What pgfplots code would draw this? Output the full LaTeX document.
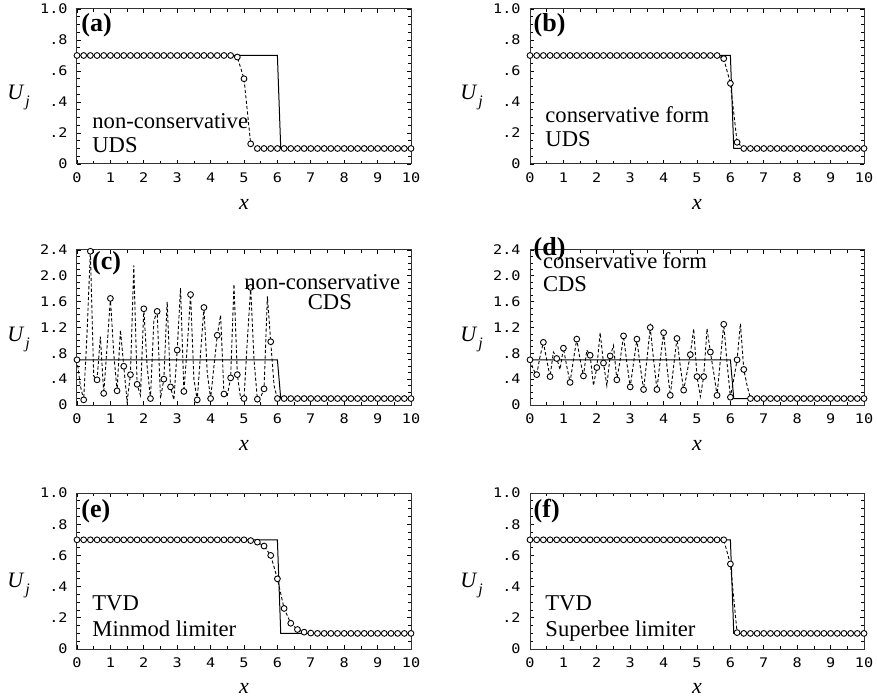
\documentclass[border=0pt]{standalone}
\usepackage{fontspec}
\setmainfont{Liberation Serif}
\newfontfamily\tickfont[FakeStretch=1.15, Numbers=SlashedZero]{DejaVu Sans Mono}
\usepackage{pgfplots}
\usepackage{pgfplotstable}
\pgfplotsset{compat=1.18}

% panel (c): non-conservative CDS, dx = 0.1, markers on every other point
\pgfplotstableread{
x y
0.0 0.70
0.1 0.30
0.2 0.08
0.3 1.10
0.4 2.38
0.5 0.45
0.6 0.39
0.7 1.06
0.8 0.18
0.9 0.90
1.0 1.65
1.1 0.80
1.2 0.22
1.3 1.16
1.4 0.60
1.5 0.05
1.6 0.47
1.7 2.16
1.8 0.32
1.9 0.15
2.0 1.49
2.1 0.60
2.2 0.10
2.3 1.30
2.4 1.45
2.5 0.10
2.6 0.40
2.7 1.60
2.8 0.28
2.9 0.08
3.0 0.85
3.1 1.81
3.2 0.21
3.3 0.90
3.4 1.71
3.5 0.40
3.6 0.08
3.7 0.80
3.8 1.51
3.9 0.50
4.0 0.10
4.1 0.60
4.2 1.08
4.3 1.39
4.4 0.17
4.5 0.15
4.6 0.42
4.7 1.87
4.8 0.47
4.9 0.10
5.0 0.10
5.1 1.00
5.2 1.82
5.3 0.70
5.4 0.09
5.5 0.12
5.6 0.25
5.7 1.68
5.8 0.98
5.9 0.30
6.0 0.10
6.1 0.10
6.2 0.10
6.3 0.10
6.4 0.10
6.5 0.10
6.6 0.10
6.7 0.10
6.8 0.10
6.9 0.10
7.0 0.10
7.1 0.10
7.2 0.10
7.3 0.10
7.4 0.10
7.5 0.10
7.6 0.10
7.7 0.10
7.8 0.10
7.9 0.10
8.0 0.10
8.1 0.10
8.2 0.10
8.3 0.10
8.4 0.10
8.5 0.10
8.6 0.10
8.7 0.10
8.8 0.10
8.9 0.10
9.0 0.10
9.1 0.10
9.2 0.10
9.3 0.10
9.4 0.10
9.5 0.10
9.6 0.10
9.7 0.10
9.8 0.10
9.9 0.10
10.0 0.10
}\ncdsdata

% panel (d): conservative CDS
\pgfplotstableread{
x y
0.0 0.70
0.1 0.55
0.2 0.47
0.3 0.75
0.4 0.97
0.5 0.70
0.6 0.44
0.7 0.82
0.8 0.72
0.9 0.55
1.0 0.88
1.1 0.60
1.2 0.35
1.3 0.70
1.4 1.02
1.5 0.70
1.6 0.45
1.7 0.85
1.8 0.77
1.9 0.30
2.0 0.58
2.1 1.12
2.2 0.65
2.3 0.30
2.4 0.76
2.5 0.92
2.6 0.39
2.7 0.70
2.8 1.07
2.9 0.65
3.0 0.28
3.1 0.65
3.2 1.02
3.3 0.60
3.4 0.24
3.5 0.70
3.6 1.20
3.7 0.70
3.8 0.24
3.9 0.70
4.0 1.12
4.1 0.60
4.2 0.15
4.3 0.60
4.4 1.03
4.5 0.60
4.6 0.23
4.7 0.50
4.8 0.78
4.9 1.18
5.0 0.44
5.1 0.13
5.2 0.44
5.3 1.18
5.4 0.82
5.5 0.50
5.6 0.15
5.7 0.70
5.8 1.25
5.9 0.65
6.0 0.12
6.1 0.40
6.2 0.70
6.3 1.26
6.4 0.55
6.5 0.30
6.6 0.10
6.7 0.10
6.8 0.10
6.9 0.10
7.0 0.10
7.1 0.10
7.2 0.10
7.3 0.10
7.4 0.10
7.5 0.10
7.6 0.10
7.7 0.10
7.8 0.10
7.9 0.10
8.0 0.10
8.1 0.10
8.2 0.10
8.3 0.10
8.4 0.10
8.5 0.10
8.6 0.10
8.7 0.10
8.8 0.10
8.9 0.10
9.0 0.10
9.1 0.10
9.2 0.10
9.3 0.10
9.4 0.10
9.5 0.10
9.6 0.10
9.7 0.10
9.8 0.10
9.9 0.10
10.0 0.10
}\ccdsdata

% panels (a), (b), (e), (f): dx = 0.2
\pgfplotstableread{
x a b e f
0.0 0.70 0.70 0.70 0.70
0.2 0.70 0.70 0.70 0.70
0.4 0.70 0.70 0.70 0.70
0.6 0.70 0.70 0.70 0.70
0.8 0.70 0.70 0.70 0.70
1.0 0.70 0.70 0.70 0.70
1.2 0.70 0.70 0.70 0.70
1.4 0.70 0.70 0.70 0.70
1.6 0.70 0.70 0.70 0.70
1.8 0.70 0.70 0.70 0.70
2.0 0.70 0.70 0.70 0.70
2.2 0.70 0.70 0.70 0.70
2.4 0.70 0.70 0.70 0.70
2.6 0.70 0.70 0.70 0.70
2.8 0.70 0.70 0.70 0.70
3.0 0.70 0.70 0.70 0.70
3.2 0.70 0.70 0.70 0.70
3.4 0.70 0.70 0.70 0.70
3.6 0.70 0.70 0.70 0.70
3.8 0.70 0.70 0.70 0.70
4.0 0.70 0.70 0.70 0.70
4.2 0.70 0.70 0.70 0.70
4.4 0.70 0.70 0.70 0.70
4.6 0.70 0.70 0.70 0.70
4.8 0.69 0.70 0.70 0.70
5.0 0.55 0.70 0.70 0.70
5.2 0.13 0.70 0.695 0.70
5.4 0.10 0.70 0.685 0.70
5.6 0.10 0.70 0.66 0.70
5.8 0.10 0.68 0.60 0.70
6.0 0.10 0.52 0.45 0.545
6.2 0.10 0.14 0.26 0.105
6.4 0.10 0.10 0.165 0.10
6.6 0.10 0.10 0.125 0.10
6.8 0.10 0.10 0.108 0.10
7.0 0.10 0.10 0.102 0.10
7.2 0.10 0.10 0.10 0.10
7.4 0.10 0.10 0.10 0.10
7.6 0.10 0.10 0.10 0.10
7.8 0.10 0.10 0.10 0.10
8.0 0.10 0.10 0.10 0.10
8.2 0.10 0.10 0.10 0.10
8.4 0.10 0.10 0.10 0.10
8.6 0.10 0.10 0.10 0.10
8.8 0.10 0.10 0.10 0.10
9.0 0.10 0.10 0.10 0.10
9.2 0.10 0.10 0.10 0.10
9.4 0.10 0.10 0.10 0.10
9.6 0.10 0.10 0.10 0.10
9.8 0.10 0.10 0.10 0.10
10.0 0.10 0.10 0.10 0.10
}\smoothdata

\newcommand\annfont{\fontsize{11.3}{12}\selectfont}
\newcommand\tagfont{\bfseries\fontsize{13}{13}\selectfont}
\newcommand\labfont{\fontsize{11}{12}\selectfont}
\newcommand\Uj{\labfont\textit{U}\kern0.4pt\raisebox{-0.32em}{\fontsize{8}{8}\selectfont\textit{j}}}

\pgfplotsset{
  panel/.style={scale only axis, width=167pt, height=77.5pt, anchor=south west,
    clip mode=individual,
    xmin=0, xmax=10, xtick={0,1,2,3,4,5,6,7,8,9,10},
    xticklabels={0,1,2,3,4,5,6,7,8,9,10},
    minor x tick num=1, minor y tick num=3, tick align=inside,
    major tick length=2pt, minor tick length=1.5pt,
    every tick/.style={black, line width=0.4pt},
    axis line style={line width=0.5pt, black!80},
    tick label style={font=\tickfont\fontsize{6.6}{7}\selectfont},
    xticklabel style={yshift=-1pt},
    yticklabel style={xshift=-1.2pt}},
  unit/.style={panel, ymin=0, ymax=1, ytick={0,0.2,0.4,0.6,0.8,1},
    yticklabels={0,.2,.4,.6,.8,1.0}},
  wide/.style={panel, ymin=0, ymax=2.4, ytick={0,0.4,0.8,1.2,1.6,2.0,2.4},
    yticklabels={0,.4,.8,1.2,1.6,2.0,2.4}},
  exact/.style={black, line width=0.5pt, no marks},
  num/.style={black, line width=0.45pt, dash pattern=on 1.6pt off 1.1pt,
    mark=*, mark size=1.45pt, mark options={solid, fill=white, line width=0.45pt}}
}

\begin{document}
\begin{tikzpicture}
\useasboundingbox (0,0) rectangle (438.5pt,348.5pt);

% (a)
\begin{axis}[unit, at={(38.5pt,266.5pt)}]
\addplot[exact] coordinates {(0,0.7) (6,0.7) (6.1,0.1) (10,0.1)};
\addplot[num] table[x=x, y=a] {\smoothdata};
\node[anchor=north west, inner sep=0] at (axis description cs:0.012,0.974) {\tagfont (a)};
\node[anchor=base west, inner sep=0] at (axis description cs:0.045,0.232) {\annfont non-conservative};
\node[anchor=base west, inner sep=0] at (axis description cs:0.045,0.077) {\annfont UDS};
\node at (axis description cs:-0.175,0.43) {\Uj};
\node at (axis description cs:0.5,-0.26) {\labfont\textit{x}};
\end{axis}

% (b)
\begin{axis}[unit, at={(265pt,266.5pt)}]
\addplot[exact] coordinates {(0,0.7) (6,0.7) (6.1,0.1) (10,0.1)};
\addplot[num] table[x=x, y=b] {\smoothdata};
\node[anchor=north west, inner sep=0] at (axis description cs:0.01,0.974) {\tagfont (b)};
\node[anchor=base west, inner sep=0] at (axis description cs:0.045,0.265) {\annfont conservative form};
\node[anchor=base west, inner sep=0] at (axis description cs:0.045,0.11) {\annfont UDS};
\node at (axis description cs:-0.175,0.43) {\Uj};
\node at (axis description cs:0.5,-0.26) {\labfont\textit{x}};
\end{axis}

% (c)
\begin{axis}[wide, at={(38.5pt,146pt)}]
\addplot[exact] coordinates {(0,0.7) (6,0.7) (6.1,0.1) (10,0.1)};
\addplot[num, mark repeat=2, mark phase=1] table[x=x, y=y] {\ncdsdata};
\node[anchor=north west, inner sep=0] at (axis description cs:0.044,0.995) {\tagfont (c)};
\node[anchor=base west, inner sep=0] at (axis description cs:0.50,0.748) {\annfont non-conservative};
\node[anchor=base west, inner sep=0] at (axis description cs:0.69,0.613) {\annfont CDS};
\node at (axis description cs:-0.175,0.42) {\Uj};
\node at (axis description cs:0.5,-0.26) {\labfont\textit{x}};
\end{axis}

% (d)
\begin{axis}[wide, at={(265pt,146pt)}]
\addplot[exact] coordinates {(0,0.7) (6,0.7) (6.1,0.1) (10,0.1)};
\addplot[num, mark repeat=2, mark phase=1] table[x=x, y=y] {\ccdsdata};
\node[anchor=north west, inner sep=0] at (axis description cs:0.01,1.085) {\tagfont (d)};
\node[anchor=base west, inner sep=0] at (axis description cs:0.038,0.88) {\annfont conservative form};
\node[anchor=base west, inner sep=0] at (axis description cs:0.038,0.73) {\annfont CDS};
\node at (axis description cs:-0.175,0.42) {\Uj};
\node at (axis description cs:0.5,-0.26) {\labfont\textit{x}};
\end{axis}

% (e)
\begin{axis}[unit, at={(38.5pt,24pt)}, height=78pt]
\addplot[exact] coordinates {(0,0.7) (6,0.7) (6.1,0.1) (10,0.1)};
\addplot[num] table[x=x, y=e] {\smoothdata};
\node[anchor=north west, inner sep=0] at (axis description cs:0.012,0.96) {\tagfont (e)};
\node[anchor=base west, inner sep=0] at (axis description cs:0.045,0.25) {\annfont TVD};
\node[anchor=base west, inner sep=0] at (axis description cs:0.045,0.083) {\annfont Minmod limiter};
\node at (axis description cs:-0.175,0.41) {\Uj};
\node at (axis description cs:0.5,-0.255) {\labfont\textit{x}};
\end{axis}

% (f)
\begin{axis}[unit, at={(265pt,24pt)}, height=78pt]
\addplot[exact] coordinates {(0,0.7) (6,0.7) (6.1,0.1) (10,0.1)};
\addplot[num] table[x=x, y=f] {\smoothdata};
\node[anchor=north west, inner sep=0] at (axis description cs:0.01,0.96) {\tagfont (f)};
\node[anchor=base west, inner sep=0] at (axis description cs:0.045,0.25) {\annfont TVD};
\node[anchor=base west, inner sep=0] at (axis description cs:0.045,0.083) {\annfont Superbee limiter};
\node at (axis description cs:-0.175,0.41) {\Uj};
\node at (axis description cs:0.5,-0.255) {\labfont\textit{x}};
\end{axis}
\end{tikzpicture}
\end{document}
